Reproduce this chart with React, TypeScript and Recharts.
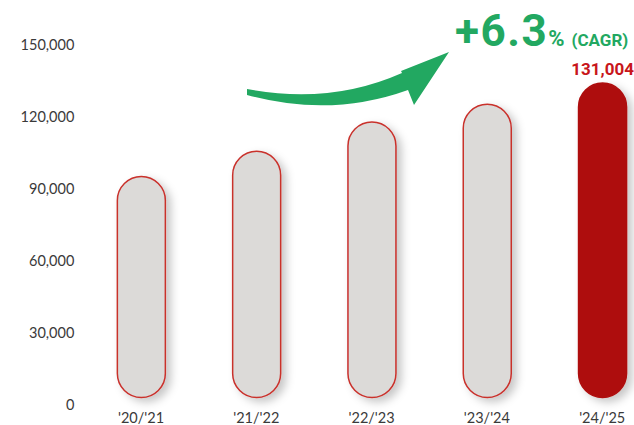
import React from 'react';
import { BarChart, Bar, XAxis, YAxis, LabelList, Customized } from 'recharts';

const seasons = ["'20/'21", "'21/'22", "'22/'23", "'23/'24", "'24/'25"];
const visitors = [92100, 102600, 114800, 122200, 131004];
const yTicks = [0, 30000, 60000, 90000, 120000, 150000];
const growthText = '+6.3';

const data = seasons.map((season, i) => ({ season, value: visitors[i] }));

const GREEN = '#22a861';
const RED = '#ae100e';
const fmt = (v: number) => v.toLocaleString('en-US');

const PillBar = (props: any) => {
  const { x, y, width, height, index } = props;
  const last = index === data.length - 1;
  return (
    <rect
      x={x}
      y={y}
      width={width}
      height={height}
      rx={width / 2}
      ry={width / 2}
      fill={last ? RED : '#dcdad8'}
      stroke={last ? RED : '#c9302c'}
      strokeWidth={1.5}
      filter="url(#pillShadow)"
    />
  );
};

const YTick = ({ x, y, payload }: any) => (
  <text x={x} y={y + 6.5} textAnchor="end" dominantBaseline="central" fontSize={14.5} fill="#3a3a3a" fontFamily="Lato, sans-serif">
    {fmt(payload.value)}
  </text>
);

const XTick = ({ x, y, payload }: any) => (
  <text x={x} y={y + 25} textAnchor="middle" fontSize={14.5} fill="#3a3a3a" fontFamily="Lato, sans-serif">
    {payload.value}
  </text>
);

const ValueLabel = ({ x, y, width, value, index }: any) => {
  if (index !== data.length - 1) return null;
  return (
    <text x={x + width / 2} y={y - 8} textAnchor="middle" fontSize={17} fontWeight={700} fill="#c8161b" fontFamily="Roboto, sans-serif">
      {fmt(value)}
    </text>
  );
};

// CAGR annotation and arrow
const Growth = () => (
  <g>
    <path
      d="M 247 89 Q 330 105 402 73 L 401 71 L 449 52 L 414 105 L 408 90 Q 330 118 247 95 Z"
      fill={GREEN}
    />
    <text x={455} y={46} fontFamily="Roboto, sans-serif" fontWeight={700} fill={GREEN}>
      <tspan fontSize={44} letterSpacing={1.5}>{growthText}</tspan>
      <tspan fontSize={22}>%</tspan>
      <tspan fontSize={17} dx={7}>(CAGR)</tspan>
    </text>
  </g>
);

export default function App() {
  return (
    <div style={{ width: 634, height: 425 }}>
      <style>{'body{margin:0}'}</style>
      <BarChart width={634} height={425} data={data} margin={{ top: 37.5, right: -25.85, bottom: 0, left: 0 }}>
        <defs>
          <filter id="pillShadow" x="-30%" y="-10%" width="170%" height="130%">
            <feDropShadow dx={5} dy={4} stdDeviation={4} floodColor="#000" floodOpacity={0.22} />
          </filter>
        </defs>
        <XAxis dataKey="season" axisLine={false} tickLine={false} tickSize={0} tickMargin={0} height={27.5} tick={<XTick />} interval={0} />
        <YAxis
          domain={[0, 150000]}
          ticks={yTicks}
          axisLine={false}
          tickLine={false}
          tickSize={0}
          tickMargin={9}
          width={83.35}
          tick={<YTick />}
        />
        <Bar dataKey="value" barSize={48} shape={<PillBar />} isAnimationActive={false}>
          <LabelList dataKey="value" content={<ValueLabel />} />
        </Bar>
        <Customized component={Growth} />
      </BarChart>
    </div>
  );
}
